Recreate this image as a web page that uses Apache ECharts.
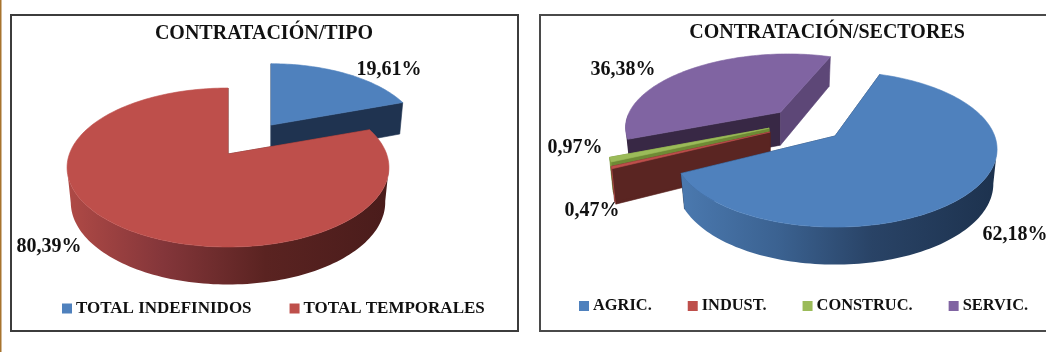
<!DOCTYPE html>
<html><head><meta charset="utf-8">
<style>html,body{margin:0;padding:0;background:#fff}#c{width:1046px;height:352px;filter:blur(0.4px)}</style>
<script src="https://cdn.jsdelivr.net/npm/echarts@6/dist/echarts.min.js"></script>
</head><body><div id="c"></div>
<script>
// ---- data ----
const tipoTitle = 'CONTRATACIÓN/TIPO';
const tipoCategories = ['TOTAL INDEFINIDOS', 'TOTAL TEMPORALES'];
const tipoValues = [19.61, 80.39];
const sectorTitle = 'CONTRATACIÓN/SECTORES';
const sectorCategories = ['AGRIC.', 'INDUST.', 'CONSTRUC.', 'SERVIC.'];
const sectorValues = [62.18, 0.47, 0.97, 36.38];

// ---- layout and style ----
const FONT = '"Liberation Serif", serif';
const pers = 0.17;
const palette = {
  blue:   {top:'#4F81BD', cut:'#1F3350', wall:[[0,'#4A78AE'],[0.3,'#3B6291'],[0.6,'#294366'],[1,'#1D324E']]},
  red:    {top:'#BE4F4B', cut:'#5A2522', wall:[[0,'#B04A46'],[0.3,'#84363A'],[0.62,'#5A2321'],[1,'#4A1C1B']]},
  green:  {top:'#9BBB59', cut:'#6E8A35', wall:[[0,'#7F9E3F'],[1,'#7F9E3F']]},
  purple: {top:'#8064A2', cut:'#382845', cutEnd:'#5D4777', wall:[[0,'#382845'],[1,'#382845']]}
};
const pies = [
  {cx:228, cy:154, a:158.6, b:77.2, start:0, gx:[66,388], order:[0,1],
   names:tipoCategories, values:tipoValues,
   colors:[palette.blue, palette.red],
   offsets:[[0.29,-0.40],[0,0]], rimScale:[0.93,1],
   labels:[[389,70],[49,247]]},
  {cx:835, cy:136, a:159.7, b:75.6, start:19, gx:[684,997], order:[3,2,1,0],
   names:sectorCategories, values:sectorValues,
   colors:[palette.blue, palette.red, palette.green, palette.purple],
   offsets:[[0,0],[-0.41,-0.053],[-0.42,-0.105],[-0.361,-0.331]], rimScale:[null,null,null,null],
   labels:[[1015,235],[592,211],[575,148],[623,70]]}
];

function project(p, u, v){
  const d = 1 - pers * v;
  return [p.cx + p.a * u / d, p.cy + p.b * v / d];
}
function lower(centerX, pt, v){
  return [centerX + (pt[0] - centerX) * 0.977, pt[1] + 34 + 3.5 * v];
}
function sliceRender(p, idx){
  let startPct = 0;
  for (let i = 0; i < idx; i++) startPct += p.values[i];
  const t0 = p.start + startPct * 3.6;
  const t1 = t0 + p.values[idx] * 3.6;
  const off = p.offsets[idx], col = p.colors[idx], s = p.rimScale[idx];
  const apexTop = project(p, off[0], off[1]);
  const lowX = apexTop[0];
  const apexLow = lower(lowX, apexTop, off[1]);
  const arcTop = [], arcLow = [], front = [];
  const n = Math.max(2, Math.ceil((t1 - t0) / 1.5));
  for (let i = 0; i <= n; i++){
    const t = (t0 + (t1 - t0) * i / n) * Math.PI / 180;
    const cu = Math.sin(t), cv = -Math.cos(t);
    let pt, v;
    if (s) {
      const base = project(p, cu, cv);
      pt = [apexTop[0] + (base[0] - p.cx) * s, apexTop[1] + (base[1] - p.cy) * s];
      v = off[1] + cv * s;
    } else {
      pt = project(p, cu + off[0], cv + off[1]);
      v = cv + off[1];
    }
    arcTop.push(pt); arcLow.push(lower(lowX, pt, v));
    if (cv >= 0) front.push(i);
  }
  const wallFill = new echarts.graphic.LinearGradient(p.gx[0], 0, p.gx[1], 0,
    col.wall.map(c => ({offset:c[0], color:c[1]})), true);
  const poly = (points, fill) => ({type:'polygon', shape:{points},
    style:{fill, stroke:fill, lineWidth:0.6}});
  const children = [];
  children.push(poly([apexTop, arcTop[0], arcLow[0], apexLow], col.cut));
  children.push(poly([apexTop, arcTop[n], arcLow[n], apexLow], col.cutEnd || col.cut));
  if (front.length > 1){
    let iMax = front[0], iMin = front[0];
    front.forEach(i => {
      if (arcTop[i][0] > arcTop[iMax][0]) iMax = i;
      if (arcTop[i][0] < arcTop[iMin][0]) iMin = i;
    });
    const a = Math.min(iMax, iMin), b = Math.max(iMax, iMin);
    if (b > a) children.push({type:'polygon',
      shape:{points:arcTop.slice(a, b + 1).concat(arcLow.slice(a, b + 1).reverse())},
      style:{fill:wallFill}});
  }
  children.push(poly([apexTop].concat(arcTop), col.top));
  children.push({type:'text', z2:50, style:{x:p.labels[idx][0], y:p.labels[idx][1],
    text:p.values[idx].toFixed(2).replace('.', ',') + '%',
    fill:'#111', font:'bold 20px '+FONT, align:'center', verticalAlign:'middle'}});
  return {type:'group', children};
}
const series = [];
pies.forEach(p => p.order.forEach(i => series.push({
  type:'custom', name:p.names[i], coordinateSystem:'none',
  data:[p.values[i]], silent:true, animation:false, clip:false,
  itemStyle:{color:p.colors[i].top},
  renderItem:() => sliceRender(p, i)
})));

const legendBase = {orient:'horizontal', icon:'rect', itemWidth:10, itemHeight:10,
  selectedMode:false, padding:0};
const legendText = size => ({fontFamily:FONT, fontWeight:'bold', fontSize:size, color:'#111', padding:[0,0,0,-1]});

const chart = echarts.init(document.getElementById('c'), null, {renderer:'canvas'});
chart.setOption({
  animation:false, backgroundColor:'#fff',
  title:[
    {text:tipoTitle, left:264, top:24, textAlign:'center', padding:0,
     textStyle:{fontFamily:FONT, fontWeight:'bold', fontSize:20, color:'#111'}},
    {text:sectorTitle, left:827, top:23, textAlign:'center', padding:0,
     textStyle:{fontFamily:FONT, fontWeight:'bold', fontSize:20, color:'#111'}}
  ],
  legend:[
    Object.assign({}, legendBase, {data:tipoCategories, left:62, top:300, itemGap:38, textStyle:legendText(17)}),
    Object.assign({}, legendBase, {data:sectorCategories, left:579, top:298, itemGap:36, textStyle:legendText(16.4)})
  ],
  graphic:[
    {type:'rect', silent:true, shape:{x:11,y:15,width:507,height:316}, style:{fill:'none',stroke:'#3c3c3c',lineWidth:2}},
    {type:'rect', silent:true, shape:{x:540,y:15,width:520,height:316}, style:{fill:'none',stroke:'#4a4a4a',lineWidth:2}},
    {type:'rect', silent:true, shape:{x:0,y:0,width:1.5,height:352}, style:{fill:'#A8742E'}}
  ],
  series
});
</script></body></html>
